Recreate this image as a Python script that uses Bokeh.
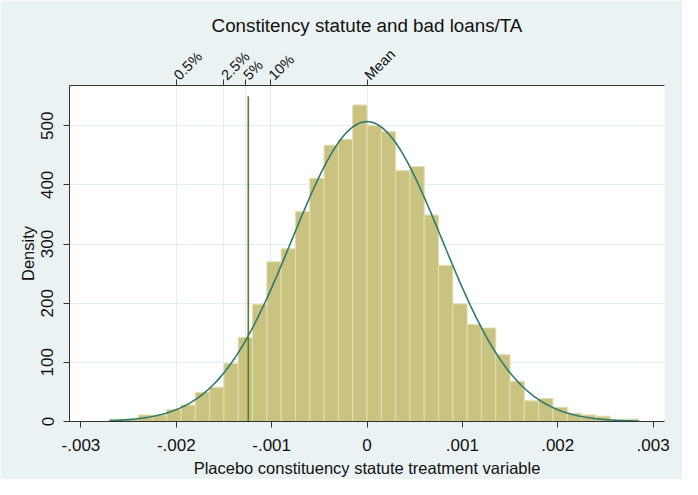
import numpy as np
from math import pi
from bokeh.plotting import figure
from bokeh.models import LinearAxis, FixedTicker, Range1d, ColumnDataSource
from bokeh.embed import file_html
from bokeh.resources import INLINE

# ---- data ----
bin_start = -0.0027
bin_width = 0.00015
density = [4, 4, 11, 11, 20, 28, 49, 58, 98, 142, 198, 270, 292, 355, 411,
           467, 477, 535, 500, 490, 424, 431, 349, 264, 199, 164, 158, 113,
           68, 35, 39, 24, 14, 11, 9, 3, 4]
normal_mean = 0.0
normal_sd = 0.000787
observed_value = -0.001245
observed_top = 550
pct_labels = ["0.5%", "2.5%", "5%", "10%", "Mean"]
pct_values = [-0.002, -0.001503, -0.001273, -0.001007, 0.0]
x_ticks = [-0.003, -0.002, -0.001, 0.0, 0.001, 0.002, 0.003]
x_tick_labels = ["-.003", "-.002", "-.001", "0", ".001", ".002", ".003"]
y_ticks = [0, 100, 200, 300, 400, 500]

FONT = "Liberation Sans"
BG = "#eaf2f3"
TXT = "#111111"

n = len(density)
lefts = [bin_start + i * bin_width for i in range(n)]
rights = [l + bin_width for l in lefts]
bars = ColumnDataSource(dict(left=lefts, right=rights, top=density, bottom=[0] * n))

x_lo, x_hi = bin_start, bin_start + n * bin_width
xs = np.linspace(x_lo, x_hi, 400)
ys = np.exp(-0.5 * ((xs - normal_mean) / normal_sd) ** 2) / (normal_sd * np.sqrt(2 * np.pi))

p = figure(width=682, height=479, output_backend="svg", toolbar_location=None,
           x_range=Range1d(-0.00312, 0.00312), y_range=Range1d(0, 568),
           min_border_left=69, min_border_right=18, min_border_top=85,
           min_border_bottom=57, title="Constitency statute and bad loans/TA")
p.border_fill_color = BG
p.background_fill_color = "white"
p.outline_line_color = None

p.title.align = "center"
p.title.text_font = FONT
p.title.text_font_size = "18.8px"
p.title.text_font_style = "normal"
p.title.text_color = TXT
p.title.standoff = 3

p.quad(left="left", right="right", top="top", bottom="bottom", source=bars,
       fill_color="#c9c281", line_color="#e2deb0", line_width=1)
p.line(xs, ys, line_color="#2f7a6e", line_width=1.6)
p.segment(x0=[observed_value], y0=[0], x1=[observed_value], y1=[observed_top],
          line_color="#5b7b2e", line_width=1.6)

# bottom axis
xa = p.xaxis[0]
xa.ticker = FixedTicker(ticks=x_ticks)
xa.major_label_overrides = {t: l for t, l in zip(x_ticks, x_tick_labels)}
xa.axis_label = "Placebo constituency statute treatment variable"

# left axis
ya = p.yaxis[0]
ya.ticker = FixedTicker(ticks=y_ticks)
ya.axis_label = "Density"
ya.major_label_orientation = "vertical"

# top axis
ta = LinearAxis(ticker=FixedTicker(ticks=pct_values),
                major_label_overrides={v: l for v, l in zip(pct_values, pct_labels)},
                major_label_orientation=pi / 4)
p.add_layout(ta, "above")

for ax in (xa, ya, ta):
    ax.axis_line_color = "#333333"
    ax.major_tick_line_color = "#333333"
    ax.major_tick_out = 6
    ax.major_tick_in = 0
    ax.minor_tick_line_color = None
    ax.major_label_text_font = FONT
    ax.major_label_text_font_size = "17px"
    ax.major_label_text_color = TXT
    ax.axis_label_text_font = FONT
    ax.axis_label_text_font_size = "16.5px"
    ax.axis_label_text_font_style = "normal"
    ax.axis_label_text_color = TXT
ta.major_label_text_font_size = "14.5px"
xa.major_label_standoff = 11
xa.axis_label_standoff = 5
ya.major_label_standoff = 10
ya.axis_label_standoff = 2
ta.major_label_standoff = 2

p.xgrid.ticker = FixedTicker(ticks=pct_values)
p.xgrid.grid_line_color = "#e4edef"
p.ygrid.ticker = FixedTicker(ticks=y_ticks[1:])
p.ygrid.grid_line_color = "#e4edef"

open("out.html", "w").write(file_html(p, INLINE))
